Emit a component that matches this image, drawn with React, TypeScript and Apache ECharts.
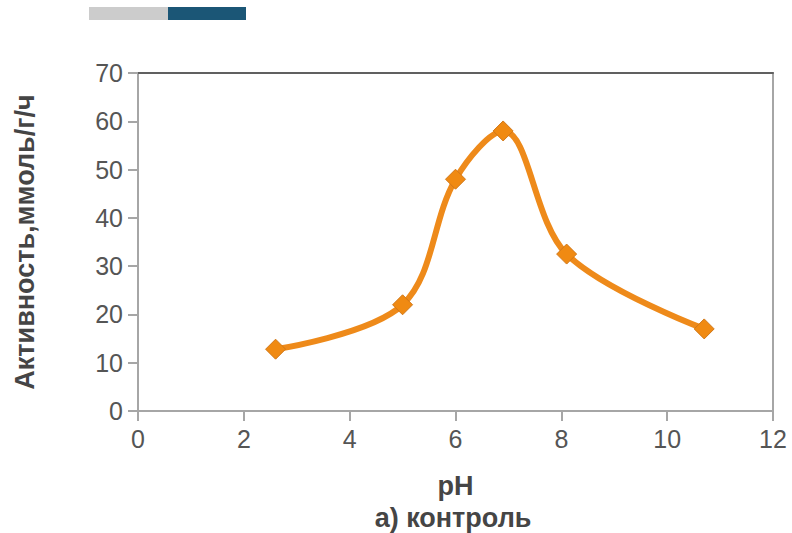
import React, { useEffect, useRef } from "react";
import * as echarts from "echarts";

const phValues: number[] = [2.6, 5.0, 6.0, 6.9, 8.1, 10.7];
const activity: number[] = [12.8, 22.0, 48.0, 58.0, 32.5, 17.0];
const xTitle = "pH";
const yTitle = "Активность,ммоль/г/ч";
const caption = "а) контроль";

export default function App() {
  const ref = useRef<HTMLDivElement>(null);
  useEffect(() => {
    if (!ref.current) return;
    const chart = echarts.init(ref.current, null, { renderer: "svg" });
    const font = "'Liberation Sans', Arial, sans-serif";
    chart.setOption({
      animation: false,
      backgroundColor: "#ffffff",
      textStyle: { fontFamily: font },
      grid: { left: 138, right: 19, top: 73, bottom: 122, containLabel: false },
      graphic: [
        { type: "rect", shape: { x: 89, y: 7, width: 79, height: 13 }, style: { fill: "#CCCCCC" } },
        { type: "rect", shape: { x: 168, y: 7, width: 78, height: 13 }, style: { fill: "#1B5676" } },
        {
          type: "text",
          x: 453,
          y: 518,
          style: {
            text: caption,
            fill: "#454545",
            font: `bold 27px ${font}`,
            align: "center",
            verticalAlign: "middle",
          },
        },
      ],
      xAxis: [
        {
          type: "value",
          min: 0,
          max: 12,
          interval: 2,
          name: xTitle,
          nameLocation: "middle",
          nameGap: 61,
          nameTextStyle: { color: "#454545", fontSize: 27, fontWeight: "bold", fontFamily: font },
          axisLine: { show: true, lineStyle: { color: "#A6A6A6", width: 2 } },
          axisTick: { show: true, length: 10, inside: false, lineStyle: { color: "#A6A6A6", width: 2 } },
          axisLabel: { color: "#555555", fontSize: 25, margin: 15, fontFamily: font },
          splitLine: { show: false },
        },
        {
          type: "value",
          position: "top",
          min: 0,
          max: 12,
          axisLine: { show: true, onZero: false, lineStyle: { color: "#606060", width: 2 } },
          axisTick: { show: false },
          axisLabel: { show: false },
          splitLine: { show: false },
        },
      ],
      yAxis: [
        {
          type: "value",
          min: 0,
          max: 70,
          interval: 10,
          name: yTitle,
          nameLocation: "middle",
          nameRotate: 90,
          nameGap: 100,
          nameTextStyle: { color: "#454545", fontSize: 27, fontWeight: "bold", fontFamily: font },
          axisLine: { show: true, lineStyle: { color: "#A6A6A6", width: 2 } },
          axisTick: { show: true, length: 10, inside: false, lineStyle: { color: "#A6A6A6", width: 2 } },
          axisLabel: { color: "#555555", fontSize: 25, margin: 15, fontFamily: font },
          splitLine: { show: false },
        },
        {
          type: "value",
          position: "right",
          min: 0,
          max: 70,
          axisLine: { show: true, onZero: false, lineStyle: { color: "#A6A6A6", width: 2 } },
          axisTick: { show: false },
          axisLabel: { show: false },
          splitLine: { show: false },
        },
      ],
      series: [
        {
          type: "line",
          xAxisIndex: 0,
          yAxisIndex: 0,
          data: phValues.map((x, i) => [x, activity[i]]),
          smooth: 0.35,
          symbol: "diamond",
          symbolSize: 20,
          lineStyle: { color: "#EE8A1A", width: 6 },
          itemStyle: { color: "#F08A12", borderColor: "#D0781A", borderWidth: 1 },
        },
      ],
    });
    return () => chart.dispose();
  }, []);
  return <div ref={ref} style={{ width: 792, height: 533, position: "absolute", left: 0, top: 0 }} />;
}
